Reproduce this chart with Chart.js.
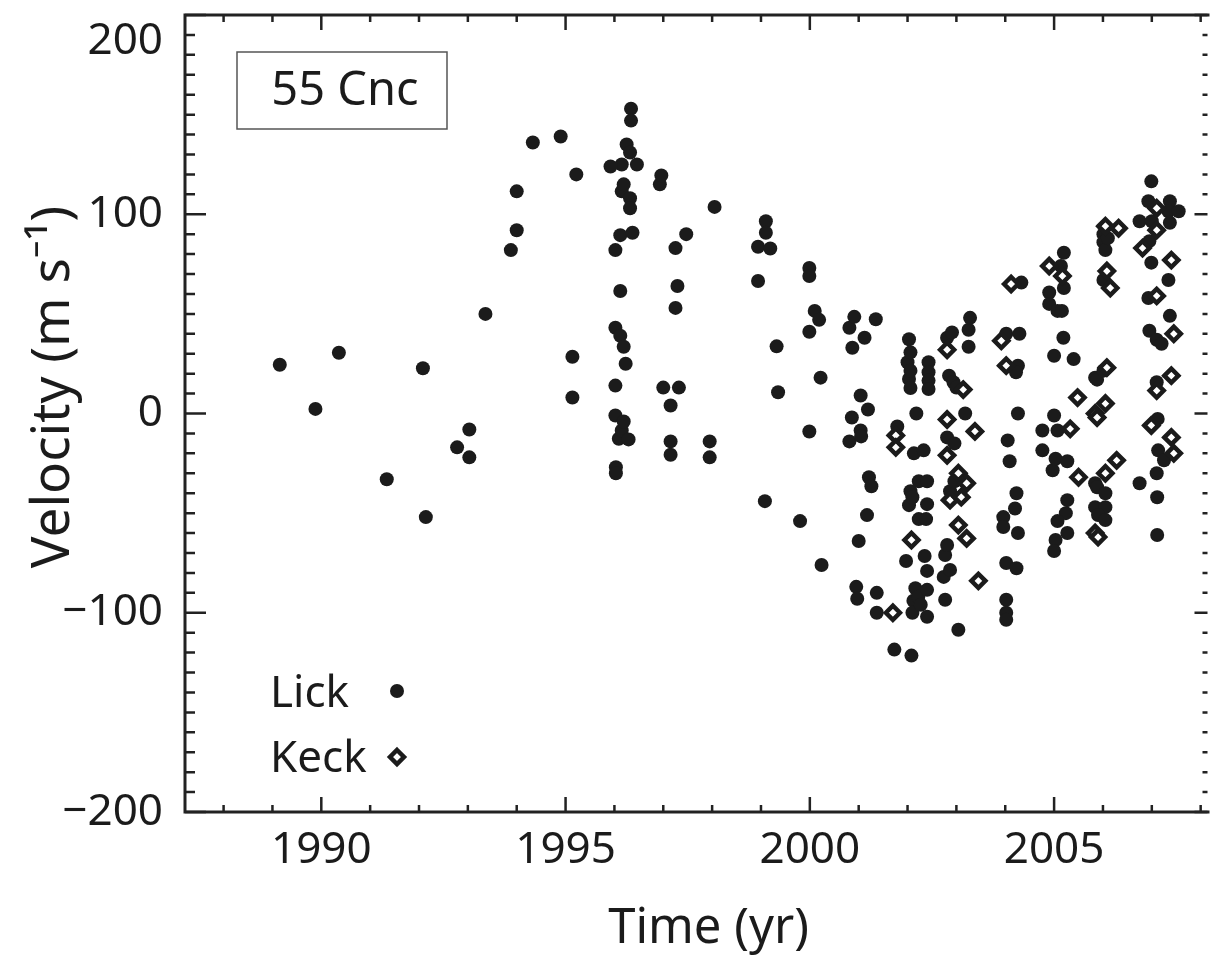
<!DOCTYPE html>
<html>
<head>
<meta charset="utf-8">
<script src="https://cdn.jsdelivr.net/npm/chart.js"></script>
<style>
  body { margin: 0; background: #fff; }
  #wrap { width: 1219px; height: 962px; }
</style>
</head>
<body>
<div id="wrap"><canvas id="rvChart" width="1219" height="962"></canvas></div>
<script>
// Lick observatory (filled dots)
const lickYear = [
  1989.15, 1989.88, 1990.36, 1991.34, 1992.08, 1992.14, 1992.78, 1993.03, 1993.03, 1993.36,
  1993.88, 1994.00, 1994.00, 1994.33, 1994.90, 1995.14, 1995.14, 1995.22, 1996.02, 1996.02,
  1996.02, 1996.02, 1996.03, 1996.03, 1996.09, 1996.12, 1996.12, 1996.12, 1996.15, 1996.15,
  1996.15, 1996.19, 1996.19, 1996.19, 1996.23, 1996.25, 1996.29, 1996.32, 1996.32, 1996.32,
  1996.34, 1996.34, 1996.37, 1996.46, 1995.92, 1996.93, 1996.96, 1997.00, 1997.15, 1997.15,
  1997.15, 1997.25, 1997.25, 1997.29, 1997.32, 1997.47, 1997.95, 1997.95, 1998.05, 1998.94,
  1998.94, 1999.08, 1999.10, 1999.10, 1999.19, 1999.32, 1999.35, 1999.80, 1999.99, 1999.99,
  1999.99, 1999.99, 2000.10, 2000.19, 2000.22, 2000.24, 2000.81, 2000.81, 2000.87, 2000.86,
  2000.91, 2000.95, 2000.97, 2001.00, 2001.04, 2001.04, 2001.05, 2001.12, 2001.17, 2001.19,
  2001.21, 2001.26, 2001.35, 2001.37, 2001.37, 2001.73, 2001.79, 2001.97, 2002.00, 2002.03,
  2002.03, 2002.03, 2002.06, 2002.06, 2002.06, 2002.06, 2002.08, 2002.10, 2002.13, 2002.16,
  2002.12, 2002.10, 2002.18, 2002.23, 2002.23, 2002.22, 2002.27, 2002.33, 2002.35, 2002.40,
  2002.40, 2002.38, 2002.40, 2002.40, 2002.40, 2002.43, 2002.43, 2002.43, 2002.43, 2002.77,
  2002.77, 2002.74, 2002.81, 2002.81, 2002.81, 2002.85, 2002.87, 2002.87, 2002.91, 2002.94,
  2002.96, 2002.96, 2003.00, 2003.04, 2003.18, 2003.25, 2003.25, 2003.28, 2003.96, 2003.96,
  2004.02, 2004.02, 2004.02, 2004.02, 2004.02, 2004.05, 2004.09, 2004.20, 2004.23, 2004.23,
  2004.26, 2004.26, 2004.26, 2004.22, 2004.29, 2004.33, 2004.76, 2004.76, 2004.90, 2004.90,
  2004.97, 2005.00, 2005.00, 2005.03, 2005.07, 2005.07, 2005.14, 2005.20, 2005.20, 2005.19,
  2005.16, 2005.27, 2005.24, 2005.07, 2005.27, 2005.03, 2005.00, 2005.27, 2005.40, 2005.84,
  2005.84, 2005.84, 2005.88, 2005.88, 2006.01, 2006.01, 2006.01, 2006.05, 2006.10, 2006.01,
  2006.05, 2006.05, 2005.90, 2006.05, 2006.99, 2006.93, 2006.75, 2007.00, 2006.95, 2007.37,
  2007.34, 2007.55, 2007.37, 2006.99, 2007.34, 2006.93, 2007.37, 2006.95, 2007.10, 2007.20,
  2007.10, 2007.12, 2007.13, 2007.25, 2007.10, 2006.75, 2007.11, 2007.11
];
const lickVel = [
  24.5, 2.3, 30.5, -33, 22.7, -52, -17, -8, -22, 50,
  82, 92, 111.5, 136, 139, 28.5, 8, 120, 82, 43,
  14, -1, -27, -30, -12.7, 89.5, 61.5, 39, 125, 111.5,
  -8.5, 115, 33.5, -4, 25, 135, -13, 131, 108, 103,
  153, 147, 90.7, 125, 124, 115, 119.5, 13, 4, -14,
  -20.7, 83, 53, 64, 13, 90, -14, -22, 103.7, 83.7,
  66.5, -44, 96.5, 90.7, 82.8, 33.7, 10.7, -54, 73, 69,
  41, -9, 51.5, 47, 18, -76, 43, -14, 33, -2,
  48.5, -87, -93, -64, 9, -8.5, -11.5, 38, -51, 2,
  -32, -36.5, 47.3, -90, -100, -118.5, -6.5, -74, 25.7, 37.3,
  17.3, -46, 30.7, 21.5, 12.8, -39, -121.5, -42, -20, -87.7,
  -94, -100, 0, -34, -53, -92, -96, -18.5, -71.5, -34,
  -45.5, -53, -79, -88.5, -102, 25.7, 20.7, 16.5, 12.3, -71,
  -93.5, -82, 38, -12, -66, 19, -39, -78.5, 40.7, 15.7,
  -15, -34, 13, -108.5, 0, 42, 33.5, 48, -52, -57,
  40, -75, -93.5, -100, -103.5, -13.5, -24, -47.7, -40, -77.7,
  24, 0, -60, 20.7, 40, 65.7, -8.5, -18.5, 60.7, 55,
  -28.5, 29, -1, -22.7, 51.5, -8.5, 74, 80.7, 63, 38,
  51.5, -43.5, -50, -54, -60, -63.5, -69, -24, 27.3, 18,
  -35, -47, 17, -37, 21.5, 90, 86, 82, 88, 67,
  -40, -47, -51, -53.5, 116.5, 106.5, 96.5, 96.5, 86.5, 106.5,
  101.5, 101.5, 95.7, 75.7, 67, 58, 49, 41.5, 37, 35,
  15.7, -2.7, -18.5, -23.5, -30, -35, -42, -61
];

// Keck observatory (open diamonds)
const keckYear = [
  2001.76, 2001.76, 2001.70, 2002.08, 2002.81, 2003.14, 2002.81, 2003.38, 2002.81, 2003.04,
  2003.21, 2002.87, 2003.10, 2003.04, 2003.21, 2003.45, 2003.92, 2004.02, 2004.12, 2004.90,
  2005.17, 2005.48, 2005.33, 2005.50, 2005.84, 2005.84, 2006.05, 2006.32, 2006.08, 2006.15,
  2006.08, 2006.05, 2005.88, 2006.28, 2006.05, 2005.90, 2007.10, 2007.10, 2006.81, 2007.40,
  2007.10, 2007.45, 2007.40, 2007.10, 2006.99, 2007.40, 2007.45
];
const keckVel = [
  -11, -17, -100, -63.5, 32, 12, -3, -9, -21, -30,
  -35, -43.5, -42, -56, -62.7, -84, 36.5, 24, 65, 74,
  69, 8, -7.7, -32, 0, -60, 94, 93, 71.5, 63,
  23, 5, -2, -23.5, -30, -62, 103, 92, 83, 77,
  59, 40, 19, 11.5, -6, -12, -20
];

const xMajor = [1990, 1995, 2000, 2005];
const yMajor = [-200, -100, 0, 100, 200];
const starName = '55 Cnc';
const legendNames = ['Lick', 'Keck'];

const ink = '#1b1b1b';
const fontFam = "'Noto Sans', 'Open Sans', sans-serif";

function toPoints(xs, ys) {
  return xs.map((x, i) => ({ x: x, y: ys[i] }));
}

function diamond(ctx, x, y, r) {
  ctx.beginPath();
  ctx.moveTo(x, y - r);
  ctx.lineTo(x + r, y);
  ctx.lineTo(x, y + r);
  ctx.lineTo(x - r, y);
  ctx.closePath();
}

// frame with inward ticks, label box and legend
const framePlugin = {
  id: 'frame',
  afterDraw(chart) {
    const ctx = chart.ctx;
    const a = chart.chartArea;
    const xs = chart.scales.x, ys = chart.scales.y;
    ctx.save();
    ctx.strokeStyle = '#222';
    ctx.lineWidth = 3;
    ctx.beginPath();
    ctx.moveTo(a.left, a.top); ctx.lineTo(a.right + 2, a.top);
    ctx.moveTo(a.left, a.top - 1.5); ctx.lineTo(a.left, a.bottom + 1.5);
    ctx.moveTo(a.left, a.bottom); ctx.lineTo(a.right + 2, a.bottom);
    ctx.stroke();

    ctx.lineWidth = 2.5;
    ctx.beginPath();
    for (let v = -200; v <= 200; v += 10) {
      const py = ys.getPixelForValue(v);
      const len = v % 100 === 0 ? 21 : 10;
      ctx.moveTo(a.left, py); ctx.lineTo(a.left + len, py);
      const rlen = v % 100 === 0 ? 13 : 5;
      ctx.moveTo(a.right, py); ctx.lineTo(a.right - rlen, py);
    }
    for (let yr = 1988; yr <= 2008; yr++) {
      const px = xs.getPixelForValue(yr);
      const len = yr % 5 === 0 ? 15 : 7;
      ctx.moveTo(px, a.bottom); ctx.lineTo(px, a.bottom - len);
      ctx.moveTo(px, a.top); ctx.lineTo(px, a.top + len);
    }
    ctx.stroke();

    // star name box
    ctx.lineWidth = 1.5;
    ctx.strokeStyle = '#555';
    ctx.strokeRect(237, 52, 210, 77);
    ctx.fillStyle = ink;
    ctx.font = '47px ' + fontFam;
    ctx.textAlign = 'center';
    ctx.textBaseline = 'middle';
    ctx.fillText(starName, 345, 92);

    // legend
    ctx.textAlign = 'left';
    ctx.textBaseline = 'alphabetic';
    ctx.font = '44px ' + fontFam;
    ctx.fillText(legendNames[0], 270, 707);
    ctx.fillText(legendNames[1], 270, 772);
    ctx.beginPath();
    ctx.arc(397, 691, 7, 0, Math.PI * 2);
    ctx.fill();
    ctx.lineWidth = 4.5;
    ctx.strokeStyle = ink;
    ctx.fillStyle = '#fff';
    diamond(ctx, 397, 757, 7);
    ctx.fill();
    ctx.stroke();
    ctx.restore();
  }
};

const ctx = document.getElementById('rvChart').getContext('2d');
new Chart(ctx, {
  type: 'scatter',
  data: {
    datasets: [
      {
        label: 'Keck',
        data: toPoints(keckYear, keckVel),
        pointStyle: 'rectRot',
        pointRadius: 7,
        borderWidth: 4.5,
        borderColor: ink,
        backgroundColor: '#fff',
        order: 0
      },
      {
        label: 'Lick',
        data: toPoints(lickYear, lickVel),
        pointStyle: 'circle',
        pointRadius: 7,
        borderWidth: 0,
        backgroundColor: ink,
        order: 1
      }
    ]
  },
  options: {
    responsive: false,
    animation: false,
    layout: { padding: { top: 15, right: 0, left: 0, bottom: 0 } },
    plugins: { legend: { display: false }, tooltip: { enabled: false } },
    scales: {
      x: {
        type: 'linear',
        min: 1987.21,
        max: 2008.14,
        grid: { display: false, drawTicks: false },
        border: { display: false },
        afterBuildTicks: (s) => { s.ticks = xMajor.map(v => ({ value: v })); },
        afterFit: (s) => { s.height = 150; s.paddingLeft = 0; s.paddingRight = 0; },
        ticks: {
          color: ink,
          padding: 12,
          maxRotation: 0,
          font: { family: fontFam, size: 44 },
          callback: (v) => String(v)
        },
        title: {
          display: true,
          text: '\u2002Time (yr)',
          color: ink,
          padding: { top: 2 },
          font: { family: fontFam, size: 49 }
        }
      },
      y: {
        min: -200,
        max: 200,
        grid: { display: false, drawTicks: false },
        border: { display: false },
        afterBuildTicks: (s) => { s.ticks = yMajor.map(v => ({ value: v })); },
        afterFit: (s) => { s.width = 185; s.paddingTop = 0; s.paddingBottom = 0; },
        ticks: {
          color: ink,
          padding: 22,
          font: { family: fontFam, size: 44 },
          // top label sits just under the frame, as in the original figure
          callback: (v) => v === 200 ? ['', '200'] : (v < 0 ? '\u2212' + Math.abs(v) : String(v))
        },
        title: {
          display: true,
          text: '\u2002\u2002Velocity (m s\u207B\u00B9)',
          color: ink,
          padding: { top: 22, bottom: 0 },
          font: { family: fontFam, size: 53 }
        }
      }
    }
  },
  plugins: [framePlugin]
});
</script>
</body>
</html>
